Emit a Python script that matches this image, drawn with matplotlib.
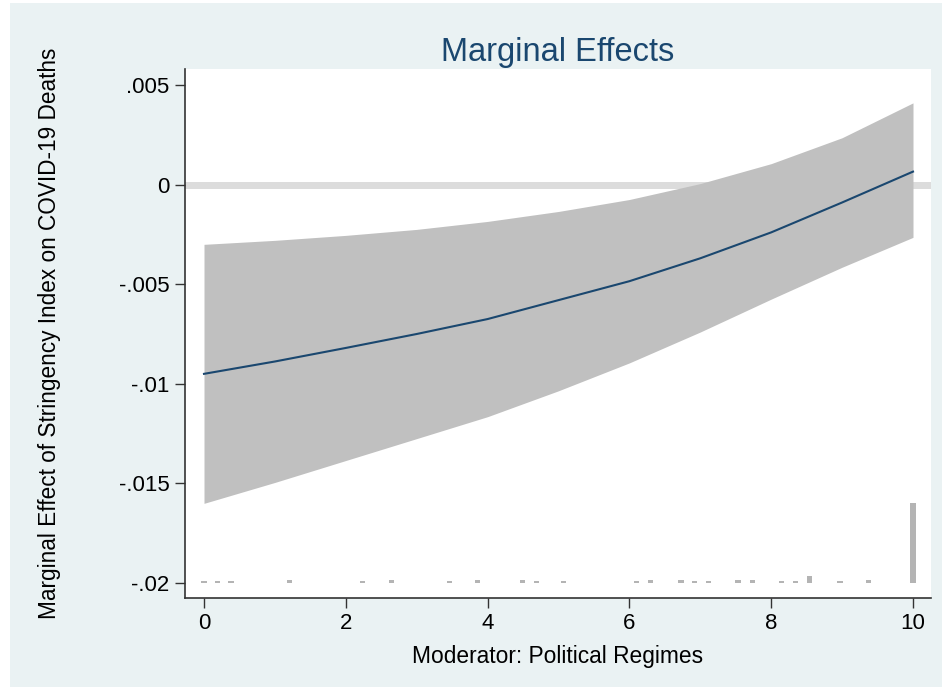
import numpy as np
import matplotlib
matplotlib.use("Agg")
import matplotlib.pyplot as plt
from matplotlib.patches import Rectangle

plt.rcParams['font.family'] = ['Liberation Sans', 'DejaVu Sans']

# marginal effect and 95% CI
moderator = [0, 1, 2, 3, 4, 5, 6, 7, 8, 9, 10]
effect = [-0.0095, -0.00888, -0.0082, -0.0075, -0.00675, -0.0058, -0.00485, -0.0037, -0.0024, -0.0009, 0.00065]
ci_upper = [-0.0030, -0.00280, -0.00255, -0.00225, -0.00185, -0.00135, -0.00075, 0.00005, 0.00105, 0.00235, 0.0041]
ci_lower = [-0.0160, -0.01495, -0.01385, -0.01275, -0.01165, -0.01035, -0.00895, -0.00740, -0.00575, -0.00415, -0.00265]

# distribution of the moderator (counts)
hist_x = [0, 0.19, 0.38, 1.21, 2.24, 2.64, 3.46, 3.86, 4.49, 4.69, 5.07, 6.1, 6.3, 6.73,
          6.92, 7.12, 7.53, 7.74, 8.15, 8.34, 8.54, 8.97, 9.37, 10]
hist_n = [1, 1, 1, 2, 1, 2, 1, 2, 2, 1, 1, 1, 2, 2,
          1, 1, 2, 2, 1, 1, 4, 1, 2, 45]

navy = '#1a476f'

fig = plt.figure(figsize=(9.42, 6.87), dpi=100, facecolor='white')
fig.patches.append(Rectangle((10 / 942, 0), 1, 1 - 3 / 687, transform=fig.transFigure,
                             facecolor='#eaf2f3', edgecolor='none', zorder=-1))
ax = fig.add_axes([185 / 942, 1 - 598 / 687, (931 - 185) / 942, (598 - 69) / 687])
ax.set_facecolor('white')

ax.axhline(0, color='#dcdcdc', lw=5, zorder=1)
ax.fill_between(moderator, ci_lower, ci_upper, color='#c0c0c0', lw=0, zorder=2)
ax.plot(moderator, effect, color=navy, lw=1.5, zorder=3)

base = -0.02
scale = 0.004 / max(hist_n)
ax.bar(hist_x, [n * scale for n in hist_n], bottom=base, width=0.075,
       color='#b4b4b4', lw=0, zorder=2)

ax.set_xlim(-0.268, 10.254)
ax.set_ylim(-0.02075, 0.0058)
ax.set_xticks([0, 2, 4, 6, 8, 10])
ax.set_yticks([0.005, 0, -0.005, -0.01, -0.015, -0.02])
ax.set_yticklabels(['.005', '0', '-.005', '-.01', '-.015', '-.02'])

for s in ['top', 'right']:
    ax.spines[s].set_visible(False)
for s in ['left', 'bottom']:
    ax.spines[s].set_color('#333333')
    ax.spines[s].set_linewidth(1.2)
ax.tick_params(axis='both', length=7, width=1, color='#333333', labelsize=16, pad=4)

ax.set_title('Marginal Effects', fontsize=23.5, color=navy, pad=6)
ax.set_xlabel('Moderator: Political Regimes', fontsize=16.4, labelpad=8)
ax.set_ylabel('Marginal Effect of Stringency Index on COVID-19 Deaths', fontsize=16.3)
ax.yaxis.set_label_coords(-0.166, 0.5)

fig.savefig('out.png', dpi=100, facecolor=fig.get_facecolor())
